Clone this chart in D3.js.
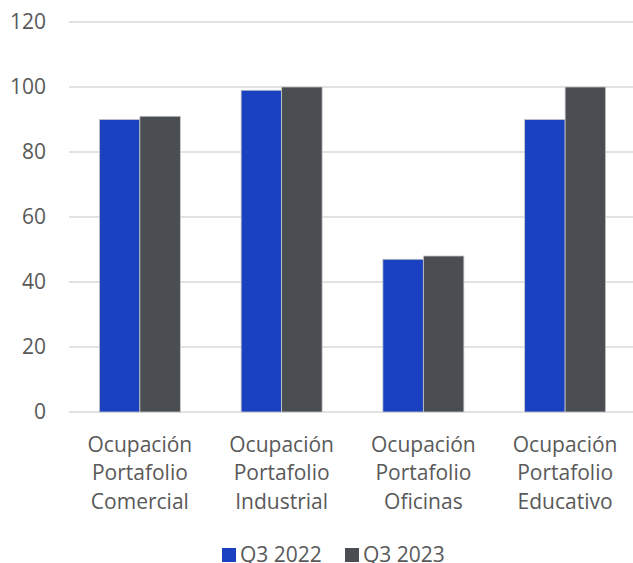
<!DOCTYPE html>
<html lang="es">
<head>
<meta charset="utf-8">
<title>Ocupación Portafolio</title>
<script src="https://cdn.jsdelivr.net/npm/d3@7"></script>
<style>
  body { margin: 0; background: #fff; }
  text { font-family: "Open Sans", sans-serif; fill: #595959; }
</style>
</head>
<body>
<script>
// Data
var categories = [
  ["Ocupación", "Portafolio", "Comercial"],
  ["Ocupación", "Portafolio", "Industrial"],
  ["Ocupación", "Portafolio", "Oficinas"],
  ["Ocupación", "Portafolio", "Educativo"]
];
var seriesNames = ["Q3 2022", "Q3 2023"];
var q3_2022 = [90, 99, 47, 90];
var q3_2023 = [91, 100, 48, 100];
var yTicks = [0, 20, 40, 60, 80, 100, 120];
var colors = ["#1A41C0", "#4A4D51"];

var w = 633, h = 563;
var padL = 69, padR = 636, padT = 22, padB = 412;

var svg = d3.select("body").append("svg")
  .attr("width", w)
  .attr("height", h);

var x = d3.scaleBand()
  .domain(d3.range(categories.length))
  .range([padL, padR]);

var x1 = d3.scaleBand()
  .domain([0, 1])
  .range([0, x.bandwidth()])
  .paddingOuter(0.75)
  .paddingInner(0);

var y = d3.scaleLinear()
  .domain([0, 120])
  .range([padB, padT]);

// gridlines
svg.append("g")
  .selectAll("line")
  .data(yTicks)
  .enter()
  .append("line")
  .attr("x1", padL)
  .attr("x2", w)
  .attr("y1", function(d) { return y(d); })
  .attr("y2", function(d) { return y(d); })
  .attr("stroke", "#d9d9d9")
  .attr("stroke-width", 1.5);

// y axis labels
var yAxis = d3.axisLeft(y).tickValues(yTicks).tickSize(0).tickPadding(0);
var ya = svg.append("g")
  .attr("transform", "translate(46,0)")
  .call(yAxis);
ya.select(".domain").remove();
ya.attr("font-family", null).attr("font-size", null);
ya.selectAll("text")
  .style("font-size", "21px")
  .attr("fill", "#595959");

// bars
var series = [q3_2022, q3_2023];
series.forEach(function(vals, s) {
  svg.append("g")
    .selectAll("rect")
    .data(vals)
    .enter()
    .append("rect")
    .attr("x", function(d, i) { return x(i) + x1(s); })
    .attr("width", x1.bandwidth())
    .attr("y", function(d) { return y(d); })
    .attr("height", function(d) { return y(0) - y(d); })
    .attr("fill", colors[s])
    .attr("stroke", "#c8c8c8")
    .attr("stroke-width", 0.8);
});

// category labels
var cats = svg.append("g")
  .selectAll("text")
  .data(categories)
  .enter()
  .append("text")
  .attr("text-anchor", "middle")
  .style("font-size", "21px");
cats.each(function(lines, i) {
  var t = d3.select(this);
  lines.forEach(function(l, k) {
    t.append("tspan")
      .attr("x", x(i) + x.bandwidth() / 2)
      .attr("y", 452 + k * 28.3)
      .text(l);
  });
});

// legend
var legendX = [222, 345];
var lg = svg.append("g")
  .selectAll("g")
  .data(seriesNames)
  .enter()
  .append("g")
  .attr("transform", function(d, i) { return "translate(" + legendX[i] + ",0)"; });
lg.append("rect")
  .attr("x", 0)
  .attr("y", 548)
  .attr("width", 14)
  .attr("height", 14)
  .attr("fill", function(d, i) { return colors[i]; });
lg.append("text")
  .attr("x", 18)
  .attr("y", 562)
  .style("font-size", "21px")
  .text(function(d) { return d; });
</script>
</body>
</html>
